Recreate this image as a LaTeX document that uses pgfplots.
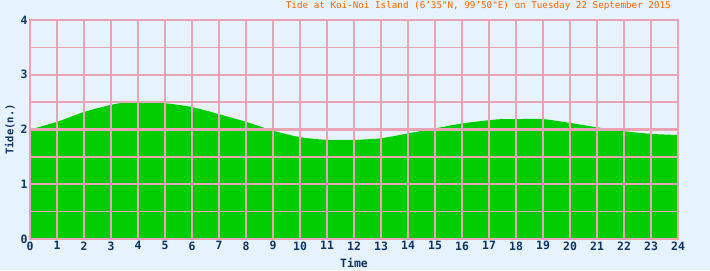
\documentclass[border=0pt]{standalone}
\usepackage{pgfplots}
\pgfplotsset{compat=1.18}
\usepackage{fontspec}
\setmainfont{DejaVu Sans}
\setmonofont{DejaVu Sans Mono}
\definecolor{bgblue}{HTML}{E6F2FE}
\definecolor{gridpink}{HTML}{E9A3B4}
\definecolor{tidegreen}{HTML}{00CC00}
\definecolor{labelblue}{HTML}{0A3366}
\definecolor{titleorange}{HTML}{FF6600}
\begin{document}
\begin{tikzpicture}[x=1bp,y=1bp]
\fill[bgblue] (0,0) rectangle (710,270);
\path[use as bounding box] (0,0) rectangle (710,270);
\begin{axis}[
  at={(30bp,31bp)}, anchor=south west,
  scale only axis, width=648bp, height=219bp,
  xmin=0, xmax=24, ymin=0, ymax=4,
  xtick={0,1,...,24}, ytick={0,1,2,3,4},
  minor ytick={0.5,1.5,2.5,3.5},
  grid=both,
  major grid style={draw=gridpink, line width=2.2bp},
  minor grid style={draw=gridpink, line width=1.6bp},
  axis line style={draw=gridpink, line width=2.2bp},
  tick style={draw=none},
  axis on top,
  /pgf/number format/assume math mode=true,
  ticklabel style={font=\fontsize{11.5}{13}\selectfont\ttfamily\bfseries, text=labelblue},
  xticklabel style={yshift=1bp},
  yticklabel style={xshift=1bp},
  xlabel={Time}, ylabel={Tide(n.)},
  xlabel style={at={(axis description cs:0.5,-0.11)}, anchor=center, font=\fontsize{11.5}{13}\selectfont\ttfamily\bfseries, text=labelblue},
  ylabel style={at={(axis description cs:-0.031,0.5)}, anchor=center, font=\fontsize{10.5}{12}\selectfont\ttfamily\bfseries, text=labelblue},
]
\addplot[fill=tidegreen, draw=none, smooth] coordinates {
(0,2.00) (1,2.14) (2,2.32) (3,2.45) (3.5,2.49) (4,2.49) (4.5,2.49) (5,2.48) (6,2.41) (7,2.28) (8,2.14) (9,1.98) (10,1.86) (11,1.81) (11.5,1.81) (12,1.81) (13,1.84) (14,1.93) (15,2.02) (16,2.11) (17,2.17) (17.5,2.19) (18,2.19) (19,2.19) (20,2.12) (21,2.04) (22,1.97) (23,1.92) (24,1.90)
} \closedcycle;
\end{axis}
\node[anchor=base east, font=\fontsize{9.3}{11}\selectfont\ttfamily, text=titleorange, inner sep=0pt] at (671,262) {Tide at Koi-Noi Island (6’35"N, 99’50"E) on Tuesday 22 September 2015};
\end{tikzpicture}
\end{document}
